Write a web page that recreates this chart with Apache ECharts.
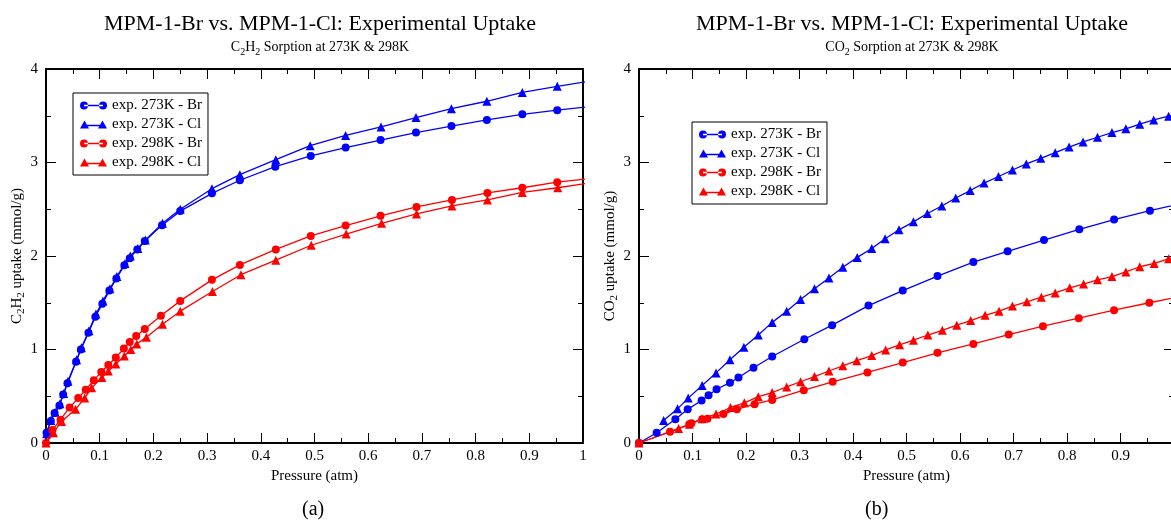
<!DOCTYPE html>
<html>
<head>
<meta charset="utf-8">
<script src="https://cdn.jsdelivr.net/npm/echarts@6/dist/echarts.min.js"></script>
<style>
  html, body { margin: 0; padding: 0; background: #fff; }
  #chart { width: 1171px; height: 524px; }
</style>
</head>
<body>
<div id="chart"></div>
<script>
// ---- data: [pressure (atm), uptake (mmol/g)] ----
var seriesNames = ['exp. 273K - Br', 'exp. 273K - Cl', 'exp. 298K - Br', 'exp. 298K - Cl'];

// (a) C2H2
var c2h2_273_br = [[0.001,0.11],[0.009,0.235],[0.016,0.32],[0.025,0.40],[0.032,0.52],[0.040,0.64],[0.056,0.87],[0.065,1.00],[0.079,1.18],[0.092,1.35],[0.105,1.49],[0.118,1.63],[0.131,1.76],[0.146,1.90],[0.156,1.975],[0.170,2.07],[0.184,2.16],[0.216,2.33],[0.250,2.48],[0.309,2.67],[0.361,2.81],[0.427,2.955],[0.493,3.07],[0.558,3.16],[0.623,3.24],[0.689,3.32],[0.755,3.39],[0.821,3.455],[0.887,3.515],[0.952,3.56],[1.017,3.60]];
var c2h2_273_cl = [[0.001,0.10],[0.009,0.24],[0.017,0.33],[0.026,0.42],[0.033,0.53],[0.041,0.66],[0.057,0.89],[0.066,1.02],[0.080,1.20],[0.093,1.38],[0.106,1.52],[0.119,1.65],[0.132,1.78],[0.147,1.92],[0.157,2.00],[0.171,2.08],[0.185,2.17],[0.217,2.35],[0.250,2.50],[0.309,2.72],[0.361,2.87],[0.428,3.03],[0.492,3.18],[0.558,3.29],[0.624,3.38],[0.689,3.48],[0.755,3.575],[0.821,3.655],[0.887,3.75],[0.952,3.815],[1.017,3.875]];
var c2h2_298_br = [[0,0],[0.012,0.14],[0.027,0.25],[0.044,0.38],[0.060,0.48],[0.074,0.57],[0.089,0.67],[0.103,0.76],[0.116,0.835],[0.130,0.915],[0.145,1.01],[0.156,1.08],[0.168,1.145],[0.184,1.22],[0.214,1.36],[0.250,1.52],[0.309,1.745],[0.361,1.905],[0.428,2.07],[0.493,2.215],[0.558,2.325],[0.623,2.43],[0.690,2.525],[0.756,2.60],[0.822,2.675],[0.887,2.73],[0.952,2.79],[1.017,2.83]];
var c2h2_298_cl = [[0,0],[0.014,0.11],[0.029,0.23],[0.055,0.36],[0.072,0.48],[0.085,0.59],[0.104,0.70],[0.116,0.77],[0.130,0.845],[0.146,0.93],[0.158,1.00],[0.169,1.06],[0.187,1.13],[0.217,1.27],[0.250,1.41],[0.310,1.62],[0.363,1.80],[0.428,1.955],[0.494,2.115],[0.559,2.235],[0.625,2.35],[0.690,2.45],[0.756,2.535],[0.822,2.60],[0.887,2.68],[0.953,2.73],[1.017,2.785]];

// (b) CO2
var co2_273_br = [[0,0],[0.033,0.11],[0.068,0.255],[0.091,0.36],[0.117,0.455],[0.130,0.51],[0.145,0.575],[0.170,0.645],[0.186,0.70],[0.214,0.805],[0.249,0.925],[0.309,1.11],[0.361,1.26],[0.429,1.47],[0.493,1.63],[0.558,1.785],[0.625,1.935],[0.689,2.05],[0.757,2.17],[0.823,2.285],[0.888,2.39],[0.955,2.485],[1.020,2.57]];
var co2_273_cl = [[0.046,0.24],[0.072,0.365],[0.092,0.48],[0.118,0.615],[0.144,0.75],[0.170,0.89],[0.196,1.025],[0.223,1.155],[0.249,1.29],[0.276,1.41],[0.302,1.535],[0.328,1.65],[0.355,1.765],[0.381,1.88],[0.408,1.985],[0.435,2.08],[0.460,2.185],[0.486,2.28],[0.513,2.365],[0.539,2.455],[0.566,2.535],[0.592,2.62],[0.619,2.70],[0.645,2.78],[0.672,2.85],[0.698,2.92],[0.724,2.985],[0.751,3.045],[0.778,3.105],[0.804,3.165],[0.830,3.22],[0.857,3.27],[0.884,3.32],[0.910,3.36],[0.936,3.41],[0.962,3.455],[0.990,3.495],[1.016,3.53]];
var co2_298_br = [[0,0],[0.058,0.12],[0.094,0.20],[0.098,0.21],[0.118,0.255],[0.128,0.26],[0.158,0.31],[0.183,0.36],[0.216,0.415],[0.249,0.46],[0.308,0.565],[0.362,0.655],[0.427,0.755],[0.493,0.86],[0.558,0.965],[0.625,1.06],[0.691,1.16],[0.755,1.25],[0.822,1.335],[0.888,1.42],[0.954,1.50],[1.020,1.575]];
var co2_298_cl = [[0,0],[0.074,0.155],[0.094,0.20],[0.118,0.26],[0.144,0.31],[0.171,0.38],[0.197,0.43],[0.223,0.495],[0.249,0.54],[0.276,0.60],[0.302,0.655],[0.328,0.71],[0.355,0.77],[0.381,0.825],[0.407,0.88],[0.435,0.935],[0.461,0.995],[0.487,1.05],[0.513,1.10],[0.540,1.155],[0.567,1.205],[0.594,1.26],[0.620,1.31],[0.647,1.365],[0.673,1.41],[0.698,1.465],[0.725,1.51],[0.752,1.56],[0.778,1.605],[0.805,1.66],[0.831,1.70],[0.857,1.745],[0.884,1.78],[0.910,1.83],[0.936,1.885],[0.963,1.92],[0.990,1.97]];

var xMin = 0, xMax = 1, xStep = 0.1;
var yMin = 0, yMax = 4, yStep = 1;

var FONT = '"Liberation Serif", "Times New Roman", serif';
var BLUE = '#0000ff', RED = '#ff0000';

// legend icons: line with a marker at both ends (grace style), 27x10 box
var ICON_CIRCLE = 'path://M0,5a4,4 0 1,0 8,0a4,4 0 1,0 -8,0Z M19,5a4,4 0 1,0 8,0a4,4 0 1,0 -8,0Z M4,4.3H23V5.7H4Z';
var ICON_TRI = 'path://M0,9L4.5,1L9,9Z M18,9L22.5,1L27,9Z M4.5,5.3H22.5V6.7H4.5Z';

var rich = {
    n: { fontFamily: FONT, fontSize: 14, lineHeight: 20, color: '#000' },
    s: { fontFamily: FONT, fontSize: 10, lineHeight: 10, verticalAlign: 'bottom', color: '#000' }
};
var richName = {
    n: { fontFamily: FONT, fontSize: 15, lineHeight: 20, color: '#000' },
    s: { fontFamily: FONT, fontSize: 11, lineHeight: 10, verticalAlign: 'bottom', color: '#000' }
};

function xAxis(grid, pos, labels, name) {
    return {
        type: 'value', gridIndex: grid, position: pos,
        min: xMin, max: xMax, interval: xStep,
        name: name, nameLocation: 'middle', nameGap: 19,
        nameTextStyle: { fontFamily: FONT, fontSize: 15, color: '#000' },
        axisLine: { show: true, onZero: false, lineStyle: { color: '#000', width: 2 } },
        axisTick: { show: true, inside: true, length: 10, lineStyle: { color: '#000', width: 1 } },
        minorTick: { show: true, splitNumber: 2, length: 5, lineStyle: { color: '#000', width: 1 } },
        splitLine: { show: false },
        axisLabel: { show: labels, margin: 6, fontFamily: FONT, fontSize: 15, color: '#000' }
    };
}

function yAxis(grid, pos, labels, name) {
    return {
        type: 'value', gridIndex: grid, position: pos,
        min: yMin, max: yMax, interval: yStep,
        name: name, nameLocation: 'middle', nameGap: 18, nameRotate: 90,
        nameTextStyle: { fontFamily: FONT, fontSize: 15, color: '#000', rich: richName },
        axisLine: { show: true, onZero: false, lineStyle: { color: '#000', width: 2 } },
        axisTick: { show: true, inside: true, length: 10, lineStyle: { color: '#000', width: 1 } },
        minorTick: { show: true, splitNumber: 2, length: 5, lineStyle: { color: '#000', width: 1 } },
        splitLine: { show: false },
        axisLabel: { show: labels, margin: 8, fontFamily: FONT, fontSize: 15, color: '#000' }
    };
}

function line(name, data, color, symbol, grid) {
    return {
        name: name, type: 'line', data: data,
        xAxisIndex: grid * 2, yAxisIndex: grid * 2,
        symbol: symbol, symbolSize: symbol == 'circle' ? 8 : 9,
        showAllSymbol: true, clip: true,
        lineStyle: { color: color, width: 1.3 },
        itemStyle: { color: color },
        z: symbol == 'circle' ? 3 : 2
    };
}

function legend(left, top) {
    return {
        orient: 'vertical', left: left, top: top,
        backgroundColor: '#fff', borderColor: '#000', borderWidth: 1,
        padding: [5, 6, 5, 7], itemGap: 4,
        itemWidth: 27, itemHeight: 10,
        textStyle: { fontFamily: FONT, fontSize: 15, color: '#000' },
        data: [
            { name: seriesNames[0], icon: ICON_CIRCLE, itemStyle: { color: BLUE } },
            { name: seriesNames[1], icon: ICON_TRI, itemStyle: { color: BLUE } },
            { name: seriesNames[2], icon: ICON_CIRCLE, itemStyle: { color: RED } },
            { name: seriesNames[3], icon: ICON_TRI, itemStyle: { color: RED } }
        ],
        selectedMode: false
    };
}

function title(x, sub) {
    return {
        text: 'MPM-1-Br vs. MPM-1-Cl: Experimental Uptake',
        subtext: sub,
        left: x, top: 8, textAlign: 'center', itemGap: 2,
        textStyle: { fontFamily: FONT, fontSize: 22, fontWeight: 'normal', color: '#000' },
        subtextStyle: { fontFamily: FONT, fontSize: 14, color: '#000', rich: rich }
    };
}

var option = {
    animation: false,
    backgroundColor: '#fff',
    title: [
        title(315, '{n|C}{s|2}{n|H}{s|2}{n| Sorption at 273K & 298K}'),
        title(907, '{n|CO}{s|2}{n| Sorption at 273K & 298K}')
    ],
    legend: [legend(73, 93), legend(692, 122)],
    grid: [
        { left: 46, width: 537, top: 69, height: 374, outerBoundsMode: 'none' },
        // the right frame runs a few pixels past the page edge, as in the reference
        { left: 639, width: 535, top: 69, height: 374, outerBoundsMode: 'none' }
    ],
    xAxis: [
        xAxis(0, 'bottom', true, 'Pressure (atm)'), xAxis(0, 'top', false, ''),
        xAxis(1, 'bottom', true, 'Pressure (atm)'), xAxis(1, 'top', false, '')
    ],
    yAxis: [
        yAxis(0, 'left', true, '{n|C}{s|2}{n|H}{s|2}{n| uptake (mmol/g)}'), yAxis(0, 'right', false, ''),
        yAxis(1, 'left', true, '{n|CO}{s|2}{n| uptake (mmol/g)}'), yAxis(1, 'right', false, '')
    ],
    series: [
        line(seriesNames[0], c2h2_273_br, BLUE, 'circle', 0),
        line(seriesNames[1], c2h2_273_cl, BLUE, 'triangle', 0),
        line(seriesNames[2], c2h2_298_br, RED, 'circle', 0),
        line(seriesNames[3], c2h2_298_cl, RED, 'triangle', 0),
        line(seriesNames[0], co2_273_br, BLUE, 'circle', 1),
        line(seriesNames[1], co2_273_cl, BLUE, 'triangle', 1),
        line(seriesNames[2], co2_298_br, RED, 'circle', 1),
        line(seriesNames[3], co2_298_cl, RED, 'triangle', 1)
    ],
    graphic: [
        { type: 'text', left: 302, top: 500, style: { text: '(a)', font: '20px ' + FONT, fill: '#000' } },
        { type: 'text', left: 865, top: 500, style: { text: '(b)', font: '20px ' + FONT, fill: '#000' } }
    ]
};

var chart = echarts.init(document.getElementById('chart'), null, { renderer: 'canvas' });
chart.setOption(option);
</script>
</body>
</html>
